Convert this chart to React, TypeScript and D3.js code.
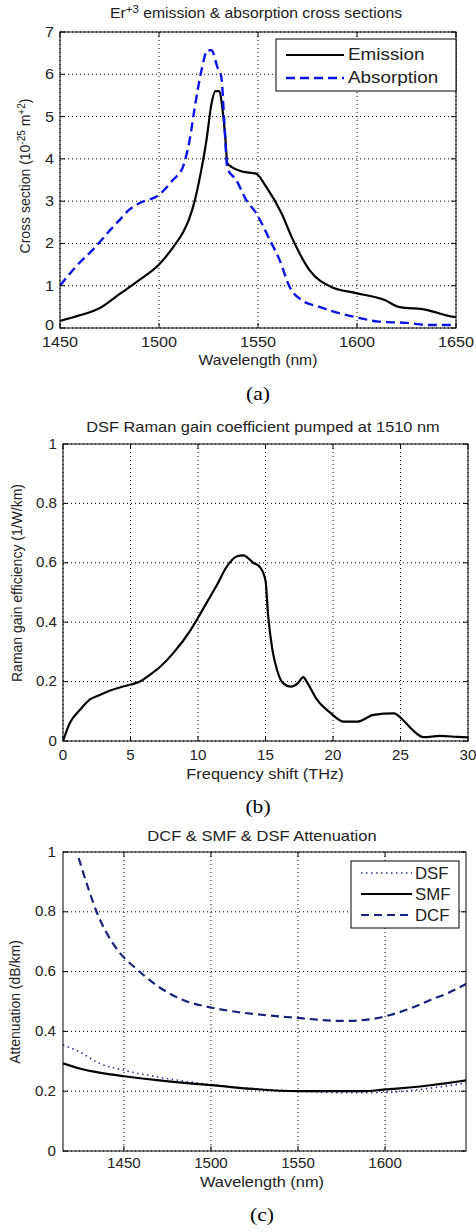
import React from 'react';
import * as d3 from 'd3';

// ---------- Data ----------
const emissionWl = [1450,1460,1470,1480,1490,1500,1507,1512,1515,1518,1521,1524,1526.5,1528.5,1530.5,1532,1533.5,1534.5,1537,1542,1549,1554,1562,1567,1576,1587,1599,1614,1621,1635,1648,1650];
const emissionVal = [0.17,0.3,0.47,0.8,1.13,1.5,1.9,2.25,2.55,3.0,3.65,4.45,5.3,5.6,5.6,5.2,4.5,3.9,3.8,3.7,3.65,3.35,2.7,2.15,1.37,0.97,0.83,0.66,0.5,0.43,0.27,0.26];
const absorptionWl = [1450,1458,1468,1475,1480,1485,1490,1500,1507,1512,1515.5,1518,1521.5,1524.5,1526.5,1529.5,1531.5,1533,1534.5,1539,1544,1549,1556,1561,1566,1572,1581,1591,1601,1611,1625,1636,1650];
const absorptionVal = [1.0,1.45,1.92,2.3,2.55,2.8,2.95,3.15,3.5,3.8,4.45,5.2,6.1,6.57,6.57,6.17,5.93,4.85,3.78,3.5,3.03,2.72,2.08,1.6,0.97,0.66,0.5,0.35,0.24,0.15,0.12,0.07,0.07];

const ramanShift = [0,0.5,1.26,2,2.74,3.5,4.2,5,5.7,6.4,7.2,8.15,9.4,10,10.7,11.4,12.1,12.9,13.35,14.1,14.6,15,15.2,15.5,15.85,16.3,16.9,17.4,17.8,18.05,18.8,19.8,20.8,21.8,23,24.5,25.2,25.9,26.7,27.9,29.2,30];
const ramanGain = [0,0.06,0.105,0.14,0.155,0.17,0.18,0.19,0.2,0.222,0.25,0.295,0.37,0.415,0.47,0.525,0.585,0.622,0.625,0.6,0.585,0.54,0.42,0.31,0.24,0.195,0.183,0.195,0.215,0.2,0.14,0.095,0.065,0.065,0.088,0.093,0.07,0.037,0.013,0.017,0.014,0.012];

const dcfWl = [1424,1430,1435,1440,1448,1457,1469,1484,1500,1515,1530,1550,1564,1576,1591,1603,1615,1626,1636,1647];
const dcfVal = [0.98,0.87,0.79,0.73,0.66,0.61,0.553,0.505,0.48,0.465,0.455,0.445,0.438,0.435,0.44,0.455,0.478,0.505,0.528,0.56];
const smfWl = [1415,1425,1436,1450,1469,1500,1550,1587,1599,1626,1647];
const smfVal = [0.293,0.275,0.262,0.25,0.237,0.22,0.2,0.2,0.205,0.22,0.237];
const dsfWl = [1415,1425,1436,1450,1469,1500,1550,1580,1600,1626,1647];
const dsfVal = [0.355,0.33,0.293,0.27,0.248,0.222,0.2,0.195,0.196,0.21,0.228];

const ticksA_x = [1450,1500,1550,1600,1650];
const ticksA_y = [0,1,2,3,4,5,6,7];
const ticksB_x = [0,5,10,15,20,25,30];
const ticksB_y = [0,0.2,0.4,0.6,0.8,1];
const ticksC_x = [1450,1500,1550,1600];
const ticksC_y = [0,0.2,0.4,0.6,0.8,1];

const FONT = 'Liberation Sans, Arial, sans-serif';
const SERIF = 'Liberation Serif, Times New Roman, serif';

type Series = { xs: number[]; ys: number[]; color: string; width: number; dash?: string };

function zip(xs: number[], ys: number[]) {
  return xs.map((x, i) => [x, ys[i]] as [number, number]);
}

function T(props: { x: number; y: number; size: number; anchor?: string; sx?: number; rot?: boolean; family?: string; fill?: string; children: React.ReactNode }) {
  const sx = props.sx ?? 1.15;
  const tr = props.rot
    ? `translate(${props.x},${props.y}) rotate(-90) scale(1,${sx})`
    : `translate(${props.x},${props.y}) scale(${sx},1)`;
  return (
    <text transform={tr} textAnchor={props.anchor ?? 'middle'} fontFamily={props.family ?? FONT}
      fontSize={props.size} fill={props.fill ?? '#222'}>{props.children}</text>
  );
}

function Panel(props: {
  id: string;
  left: number; right: number; top: number; bottom: number;
  xDomain: [number, number]; yDomain: [number, number];
  xTicks: number[]; yTicks: number[];
  yFmt: (v: number) => string;
  series: Series[];
  tickFont: number;
  tickSx: number;
  xTickBaseline: number;
  yTickRight: number;
  yTickShift: number;
}) {
  const { id, left, right, top, bottom, xDomain, yDomain, xTicks, yTicks, series, tickFont } = props;
  const x = d3.scaleLinear().domain(xDomain).range([left, right]);
  const y = d3.scaleLinear().domain(yDomain).range([bottom, top]);
  const line = d3.line<[number, number]>().x(d => x(d[0])).y(d => y(d[1])).curve(d3.curveMonotoneX);
  const tl = 5;
  return (
    <g>
      <defs>
        <clipPath id={id}>
          <rect x={left} y={top} width={right - left} height={bottom - top} />
        </clipPath>
      </defs>
      <rect x={left} y={top} width={right - left} height={bottom - top} fill="#fff" />
      {xTicks.map(t => (
        <line key={'gx' + t} x1={x(t)} x2={x(t)} y1={top} y2={bottom} stroke="#000" strokeWidth={1} strokeDasharray="1,3" />
      ))}
      {yTicks.map(t => (
        <line key={'gy' + t} x1={left} x2={right} y1={y(t)} y2={y(t)} stroke="#000" strokeWidth={1} strokeDasharray="1,3" />
      ))}
      <g clipPath={`url(#${id})`}>
        {series.map((s, i) => (
          <path key={i} d={line(zip(s.xs, s.ys)) || ''} fill="none" stroke={s.color} strokeWidth={s.width}
            strokeDasharray={s.dash} strokeLinejoin="round" />
        ))}
      </g>
      <rect x={left} y={top} width={right - left} height={bottom - top} fill="none" stroke="#000" strokeWidth={1} />
      {xTicks.map(t => (
        <g key={'tx' + t}>
          <line x1={x(t)} x2={x(t)} y1={bottom} y2={bottom - tl} stroke="#000" />
          <line x1={x(t)} x2={x(t)} y1={top} y2={top + tl} stroke="#000" />
          <T x={x(t)} y={props.xTickBaseline} size={tickFont} sx={props.tickSx}>{t}</T>
        </g>
      ))}
      {yTicks.map((t, i) => (
        <g key={'ty' + t}>
          <line x1={left} x2={left + tl} y1={y(t)} y2={y(t)} stroke="#000" />
          <line x1={right} x2={right - tl} y1={y(t)} y2={y(t)} stroke="#000" />
          <T x={props.yTickRight} y={y(t) + tickFont * 0.33 - (i === 0 ? props.yTickShift : 0)} size={tickFont} sx={props.tickSx} anchor="end">{props.yFmt(t)}</T>
        </g>
      ))}
    </g>
  );
}

export default function App() {
  const blue = '#0a14e6';
  const navy = '#16237a';
  const dsfColor = '#2b3596';
  return (
    <svg width={476} height={1232} style={{ position: 'absolute', left: 0, top: 0, background: '#fff' }}>
      <rect x={0} y={0} width={476} height={1232} fill="#fff" />
      {/* Panel (a) */}
      <T x={256} y={18} size={15} sx={1.05}>
        Er<tspan dy={-5} fontSize={11}>+3</tspan><tspan dy={5}> emission &amp; absorption cross sections</tspan>
      </T>
      <Panel id="clipA" left={60} right={456} top={32} bottom={328}
        xDomain={[1450, 1650]} yDomain={[0, 7]} xTicks={ticksA_x} yTicks={ticksA_y}
        yFmt={v => String(v)} tickFont={15} tickSx={1.08} xTickBaseline={347} yTickRight={54} yTickShift={3}
        series={[
          { xs: emissionWl, ys: emissionVal, color: '#000', width: 2.2 },
          { xs: absorptionWl, ys: absorptionVal, color: blue, width: 2.4, dash: '9,5' },
        ]} />
      <T x={30} y={176} size={14} rot sx={1.1}>
        Cross section (10<tspan dy={-5} fontSize={10}>-25</tspan><tspan dy={5}> m</tspan><tspan dy={-5} fontSize={10}>+2</tspan><tspan dy={5}>)</tspan>
      </T>
      <T x={258} y={365} size={14} sx={1.12}>Wavelength (nm)</T>
      <rect x={276} y={39} width={180} height={52} fill="#fff" stroke="#000" strokeWidth={1} />
      <line x1={286} x2={344} y1={55} y2={55} stroke="#000" strokeWidth={2.2} />
      <T x={348} y={60} size={16} sx={1.18} anchor="start">Emission</T>
      <line x1={286} x2={344} y1={78} y2={78} stroke={blue} strokeWidth={2.4} strokeDasharray="9,5" />
      <T x={348} y={83} size={16} sx={1.18} anchor="start">Absorption</T>
      <T x={258} y={400} size={18} sx={1.2} family={SERIF} fill="#000">(a)</T>

      {/* Panel (b) */}
      <T x={263} y={432} size={14} sx={1.17}>DSF Raman gain coefficient pumped at 1510 nm</T>
      <Panel id="clipB" left={63} right={468} top={444} bottom={741}
        xDomain={[0, 30]} yDomain={[0, 1]} xTicks={ticksB_x} yTicks={ticksB_y}
        yFmt={v => (v === 0 || v === 1 ? String(v) : v.toFixed(1))} tickFont={14} tickSx={1.08} xTickBaseline={760} yTickRight={57} yTickShift={0}
        series={[{ xs: ramanShift, ys: ramanGain, color: '#000', width: 2.2 }]} />
      <T x={22} y={583} size={14} rot sx={1.1}>Raman gain efficiency (1/W/km)</T>
      <T x={265} y={779} size={14} sx={1.17}>Frequency shift (THz)</T>
      <T x={258} y={813} size={18} sx={1.2} family={SERIF} fill="#000">(b)</T>

      {/* Panel (c) */}
      <T x={262} y={841} size={14} sx={1.18}>DCF &amp; SMF &amp; DSF Attenuation</T>
      <Panel id="clipC" left={63} right={466} top={852} bottom={1151}
        xDomain={[1415, 1646.5]} yDomain={[0, 1]} xTicks={ticksC_x} yTicks={ticksC_y}
        yFmt={v => (v === 0 || v === 1 ? String(v) : v.toFixed(1))} tickFont={14} tickSx={1.08} xTickBaseline={1168} yTickRight={56} yTickShift={0}
        series={[
          { xs: dsfWl, ys: dsfVal, color: dsfColor, width: 1.6, dash: '1.5,3.5' },
          { xs: smfWl, ys: smfVal, color: '#000', width: 2.2 },
          { xs: dcfWl, ys: dcfVal, color: navy, width: 2.2, dash: '8,5' },
        ]} />
      <T x={20} y={1002} size={14} rot sx={1.1}>Attenuation (dB/km)</T>
      <T x={262} y={1187} size={14} sx={1.17}>Wavelength (nm)</T>
      <rect x={351} y={861} width={108} height={67} fill="#fff" stroke="#000" strokeWidth={1} />
      <line x1={361} x2={412} y1={873} y2={873} stroke={dsfColor} strokeWidth={1.6} strokeDasharray="1.5,3.5" />
      <T x={415} y={879} size={16} sx={1.05} anchor="start">DSF</T>
      <line x1={361} x2={412} y1={894} y2={894} stroke="#000" strokeWidth={2.2} />
      <T x={415} y={900} size={16} sx={1.05} anchor="start">SMF</T>
      <line x1={361} x2={412} y1={915} y2={915} stroke={navy} strokeWidth={2.2} strokeDasharray="8,5" />
      <T x={415} y={921} size={16} sx={1.05} anchor="start">DCF</T>
      <T x={262} y={1221} size={18} sx={1.2} family={SERIF} fill="#000">(c)</T>
    </svg>
  );
}
